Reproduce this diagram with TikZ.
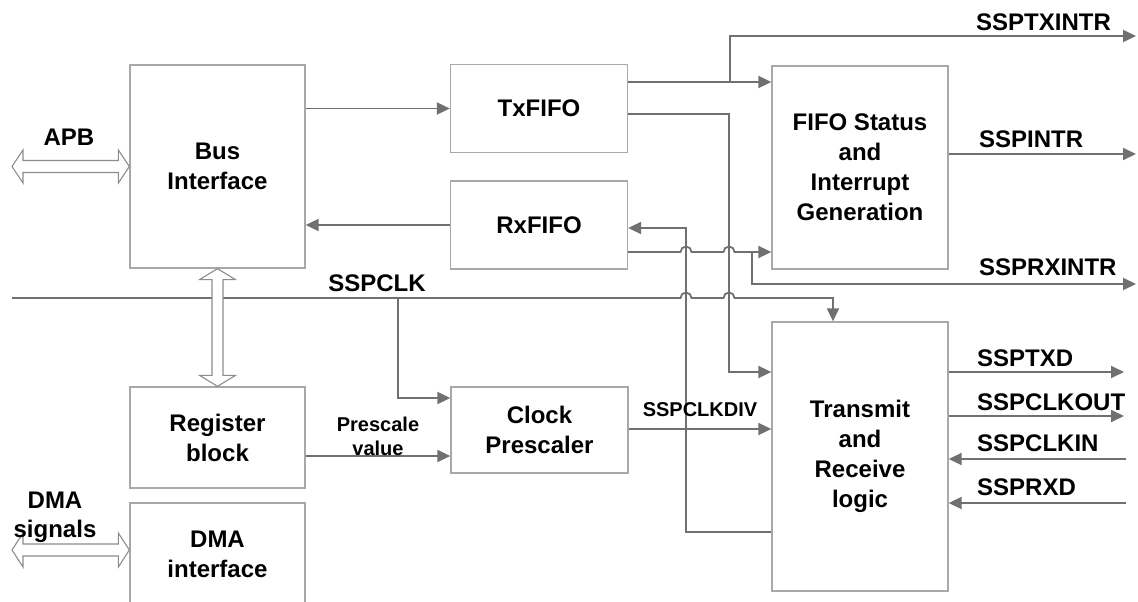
\documentclass[tikz,border=0pt]{standalone}
\usepackage{fontspec}
\setmainfont{Liberation Sans}
\usetikzlibrary{arrows.meta,calc}
\definecolor{linec}{HTML}{707070}
\definecolor{boxc}{HTML}{A8A8A8}
\definecolor{hollowc}{HTML}{8C8C8C}
\newcommand\hollowH[4]{% left, right, shaft half width, head half width
  \draw[hollow] let \p1=(#1), \p2=(#2) in
    (\x1,\y1) -- (\x1+11pt,\y1+#4) -- (\x1+11pt,\y1+#3) -- (\x2-11pt,\y1+#3)
    -- (\x2-11pt,\y1+#4) -- (\x2,\y1) -- (\x2-11pt,\y1-#4) -- (\x2-11pt,\y1-#3)
    -- (\x1+11pt,\y1-#3) -- (\x1+11pt,\y1-#4) -- cycle;}
\newcommand\hollowV[4]{% top, bottom, shaft half width, head half width
  \draw[hollow] let \p1=(#1), \p2=(#2) in
    (\x1,\y1) -- (\x1+#4,\y1-11pt) -- (\x1+#3,\y1-11pt) -- (\x1+#3,\y2+11pt)
    -- (\x1+#4,\y2+11pt) -- (\x1,\y2) -- (\x1-#4,\y2+11pt) -- (\x1-#3,\y2+11pt)
    -- (\x1-#3,\y1-11pt) -- (\x1-#4,\y1-11pt) -- cycle;}
\begin{document}
\begin{tikzpicture}[x=1pt,y=-1pt,
  blk/.style={draw=boxc,line width=1.3pt,align=center,inner sep=0pt,
    font=\bfseries\fontsize{24}{30}\selectfont},
  sig/.style={draw=linec,line width=1.8pt,-{Triangle[length=13pt,width=12pt]}},
  lbl/.style={font=\bfseries\fontsize{24}{29}\selectfont,inner sep=0pt,align=center},
  slbl/.style={font=\bfseries\fontsize{20}{24}\selectfont,inner sep=0pt,align=center},
  hollow/.style={draw=hollowc,line width=1.1pt,fill=white}]
\useasboundingbox (0,0) rectangle (1138,602);
\clip (0,0) rectangle (1138,602);
% blocks
\node[blk,minimum width=175pt,minimum height=203pt] (bus) at (217.5,166.5) {Bus\\Interface};
\node[blk,minimum width=177pt,minimum height=88pt] (tx) at (539,108.5) {TxFIFO};
\node[blk,minimum width=177pt,minimum height=88pt] (rx) at (539,225) {RxFIFO};
\node[blk,minimum width=176pt,minimum height=203pt] (fifo) at (860,167.5) {FIFO Status\\and\\Interrupt\\Generation};
\node[blk,minimum width=176pt,minimum height=269pt] (tr) at (860,456.5) {Transmit\\and\\Receive\\logic};
\node[blk,minimum width=175pt,minimum height=101pt] (reg) at (217.5,437.5) {Register\\block};
\node[blk,minimum width=175pt,minimum height=102pt] (dma) at (217.5,554) {DMA\\interface};
\node[blk,minimum width=177pt,minimum height=86pt] (clk) at (539.5,430) {Clock\\Prescaler};
% free ends
\coordinate (clkL) at (12,298);
\coordinate (txintr) at (1136,36);
\coordinate (sspintr) at (1136,154);
\coordinate (rxintr) at (1136,284);
\coordinate (txd) at (1124,372);
\coordinate (clkout) at (1124,416);
\coordinate (clkin) at (1126,459);
\coordinate (rxd) at (1126,503);
\coordinate (apbL) at (12,166.5);
\coordinate (dmaL) at (12,550);
% connectors
\draw[sig] (bus.east |- tx.west) -- (tx.west);
\draw[sig] (rx.west) -- (rx.west -| bus.east);
\draw[sig] (tx.east |- 0,82) -- (fifo.west |- 0,82);
\draw[sig] (730,82) |- (txintr);
\draw[sig] (tx.east |- 0,114) -| (729,372) -- (tr.west |- 0,372);
\draw[sig] (rx.east |- 0,252) -- (680.5,252) arc[start angle=180,end angle=0,radius=5.5pt]
  -- (723.5,252) arc[start angle=180,end angle=0,radius=5.5pt] -- (fifo.west |- 0,252);
\draw[sig] (752,252) |- (rxintr);
\draw[sig] (clkL) -- (680.5,298) arc[start angle=180,end angle=0,radius=5.5pt]
  -- (723.5,298) arc[start angle=180,end angle=0,radius=5.5pt] -- (833,298) -- (tr.north -| 833,0);
\draw[sig] (398,298) |- (clk.west |- 0,398);
\draw[sig] (reg.east |- 0,456) -- (clk.west |- 0,456);
\draw[sig] (clk.east |- 0,429) -- (tr.west |- 0,429);
\draw[sig] (tr.west |- 0,532) -| (686,228) -- (rx.east |- 0,228);
\draw[sig] (fifo.east |- sspintr) -- (sspintr);
\draw[sig] (tr.east |- txd) -- (txd);
\draw[sig] (tr.east |- clkout) -- (clkout);
\draw[sig] (clkin) -- (tr.east |- clkin);
\draw[sig] (rxd) -- (tr.east |- rxd);
% hollow bus arrows
\hollowH{apbL}{bus.west |- apbL}{6pt}{16.5pt}
\hollowH{dmaL}{dma.west |- dmaL}{6pt}{17pt}
\hollowV{bus.south}{reg.north}{5.5pt}{18pt}
% labels
\node[lbl] (apb) at (69,137) {APB};
\node[lbl] (dmasig) at (55,517) {DMA\\signals};
\node[lbl] (sspclk) at (377,283) {SSPCLK};
\node[slbl] (presc) at (378,436) {Prescale\\value};
\node[slbl] (clkdiv) at (700,410) {SSPCLKDIV};
\node[lbl,anchor=west] (l1) at (976,22) {SSPTXINTR};
\node[lbl,anchor=west] (l2) at (979,139) {SSPINTR};
\node[lbl,anchor=west] (l3) at (979,267) {SSPRXINTR};
\node[lbl,anchor=west] (l4) at (977,358) {SSPTXD};
\node[lbl,anchor=west] (l5) at (977,402) {SSPCLKOUT};
\node[lbl,anchor=west] (l6) at (977,443) {SSPCLKIN};
\node[lbl,anchor=west] (l7) at (977,487) {SSPRXD};
\end{tikzpicture}
\end{document}
